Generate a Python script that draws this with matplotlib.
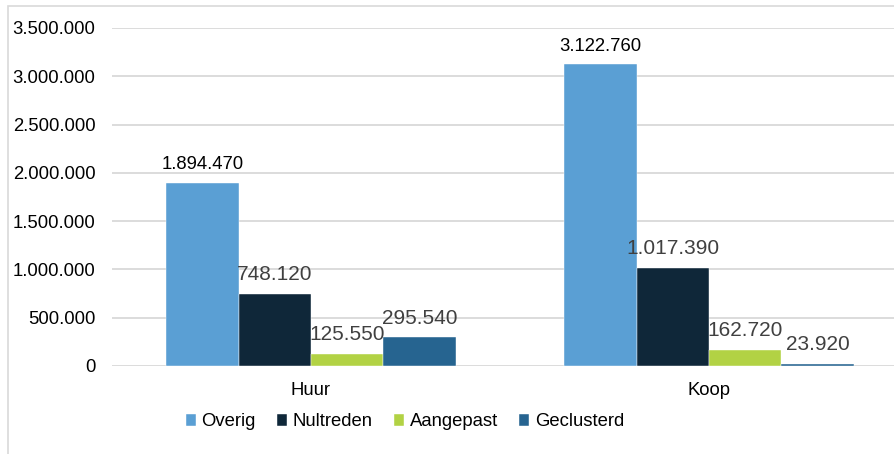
import matplotlib
matplotlib.use("Agg")
import matplotlib.pyplot as plt
from matplotlib.patches import Rectangle
import numpy as np

categories = ["Huur", "Koop"]
series_names = ["Overig", "Nultreden", "Aangepast", "Geclusterd"]
overig = [1894470, 3122760]
nultreden = [748120, 1017390]
aangepast = [125550, 162720]
geclusterd = [295540, 23920]
yticks = [0, 500000, 1000000, 1500000, 2000000, 2500000, 3000000, 3500000]

colors = ["#5A9FD4", "#0F2739", "#B2D244", "#266490"]
label_colors = ["#000000", "#404040", "#404040", "#404040"]
label_sizes = [13.3, 15, 15, 15]

plt.rcParams['font.family'] = ['Liberation Sans', 'DejaVu Sans']

def fmt(v):
    return f"{int(v):,}".replace(",", ".")

fig = plt.figure(figsize=(8.94, 4.54), dpi=100)
# outer chart frame
fig.patches.append(Rectangle((8/894, -0.1), 1.2, 1.1 - 6/454, transform=fig.transFigure,
                             fill=False, edgecolor="#d9d9d9", linewidth=1.2))

ax = fig.add_axes([112/894, 88/454, 796/894, 338/454])
x = np.arange(len(categories))
w = 0.182
data = [overig, nultreden, aangepast, geclusterd]
for i, (name, vals) in enumerate(zip(series_names, data)):
    pos = x + (i - 1.5) * w
    ax.bar(pos, vals, width=w, color=colors[i], label=name,
           edgecolor="white", linewidth=0.3, zorder=3)
    for xp, v in zip(pos, vals):
        ax.annotate(fmt(v), (xp, v), xytext=(0, 10), textcoords="offset points",
                    ha="center", va="baseline", fontsize=label_sizes[i],
                    color=label_colors[i], zorder=4)

ax.set_xlim(-0.5, 1.5)
ax.set_ylim(0, 3500000)
ax.set_yticks(yticks)
ax.set_yticklabels([fmt(t) for t in yticks], fontsize=13.3, color="#000000")
ax.set_xticks(x)
ax.set_xticklabels(categories, fontsize=13.3, color="#000000")
ax.tick_params(axis="y", length=0, pad=12)
ax.tick_params(axis="x", length=0, pad=11.5)
ax.yaxis.grid(True, color="#d9d9d9", linewidth=1.3, zorder=0)
ax.set_axisbelow(True)
for s in ax.spines.values():
    s.set_visible(False)

fig.legend(loc="center", bbox_to_anchor=(405/894, 32/454), ncol=4, frameon=False,
           fontsize=13.3, handlelength=0.55, handleheight=0.55, handletextpad=0.3,
           columnspacing=1.15, borderpad=0)

fig.savefig("out.png", dpi=100)
